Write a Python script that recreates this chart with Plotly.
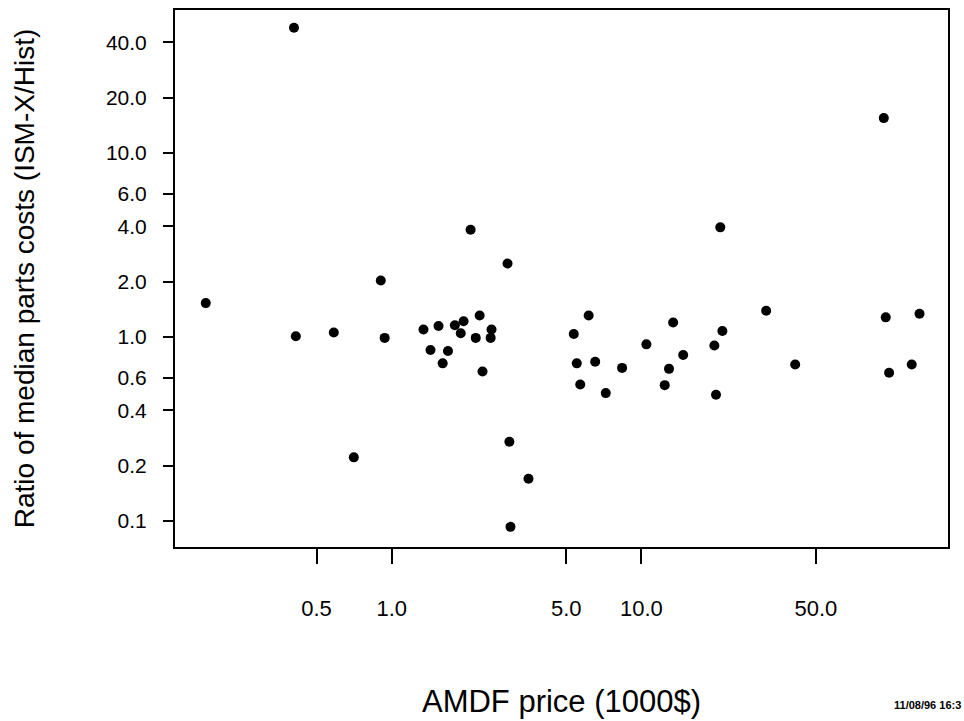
import plotly.graph_objects as go

# AMDF price (1000$) and ratio of median parts costs (ISM-X/Hist)
amdf_price = [0.180, 0.406, 0.413, 0.586, 0.705, 0.904, 0.937, 1.34, 1.43, 1.54,
              1.60, 1.68, 1.79, 1.89, 1.94, 2.07, 2.17, 2.25, 2.31, 2.49,
              2.51, 2.91, 2.96, 2.99, 3.53,
              5.36, 6.15, 5.51, 6.53, 5.69, 7.20, 8.37, 10.47, 13.4, 12.9,
              12.4, 14.7, 19.6, 21.1, 19.9, 20.7, 31.6, 41.3, 93.5, 95.2,
              98.2, 130.0, 121.0]
cost_ratio = [1.53, 48.0, 1.01, 1.06, 0.222, 2.03, 0.99, 1.10, 0.85, 1.15,
              0.72, 0.84, 1.16, 1.05, 1.22, 3.83, 0.99, 1.31, 0.65, 0.99,
              1.10, 2.51, 0.27, 0.093, 0.17,
              1.04, 1.31, 0.72, 0.735, 0.552, 0.496, 0.68, 0.913, 1.20, 0.672,
              0.548, 0.80, 0.90, 1.08, 0.486, 3.95, 1.39, 0.71, 15.5, 1.28,
              0.64, 1.34, 0.71]

x_tick_vals = [0.5, 1.0, 5.0, 10.0, 50.0]
x_tick_text = ["0.5", "1.0", "5.0", "10.0", "50.0"]
y_tick_vals = [0.1, 0.2, 0.4, 0.6, 1.0, 2.0, 4.0, 6.0, 10.0, 20.0, 40.0]
y_tick_text = ["0.1", "0.2", "0.4", "0.6", "1.0", "2.0", "4.0", "6.0", "10.0", "20.0", "40.0"]

FONT = "Liberation Sans, Arial, Helvetica, sans-serif"

fig = go.Figure()
fig.add_trace(go.Scatter(
    x=amdf_price, y=cost_ratio, mode="markers",
    marker=dict(color="black", size=10, line=dict(width=0)),
    showlegend=False,
))

fig.update_layout(
    width=964, height=721,
    margin=dict(l=175, r=16, t=8, b=173, pad=0),
    paper_bgcolor="white", plot_bgcolor="white",
    font=dict(family=FONT, color="black", size=21),
    xaxis=dict(
        type="log", range=[-0.868, 2.228],
        tickmode="array", tickvals=x_tick_vals, ticktext=x_tick_text,
        ticks="outside", ticklen=15, tickwidth=1.5, tickcolor="black",
        ticklabelstandoff=26,
        showline=True, linecolor="black", linewidth=2, mirror=True,
        showgrid=False, zeroline=False,
        tickfont=dict(size=22, family=FONT),
        title=dict(text="AMDF price (1000$)", font=dict(size=31, family=FONT), standoff=70),
    ),
    yaxis=dict(
        type="log", range=[-1.141, 1.778],
        tickmode="array", tickvals=y_tick_vals, ticktext=y_tick_text,
        ticks="outside", ticklen=10, tickwidth=1.5, tickcolor="black",
        ticklabelstandoff=12,
        showline=True, linecolor="black", linewidth=2, mirror=True,
        showgrid=False, zeroline=False,
        tickfont=dict(size=21, family=FONT),
        title=dict(text="Ratio of median parts costs (ISM-X/Hist)", font=dict(size=28, family=FONT), standoff=63),
    ),
    annotations=[dict(
        text="<b>11/08/96 16:3</b>", xref="paper", yref="paper",
        x=0.9276, y=-0.2944, xanchor="left", yanchor="middle", showarrow=False,
        font=dict(size=11, family=FONT, color="black"),
    )],
)

fig.write_html("out.html")
